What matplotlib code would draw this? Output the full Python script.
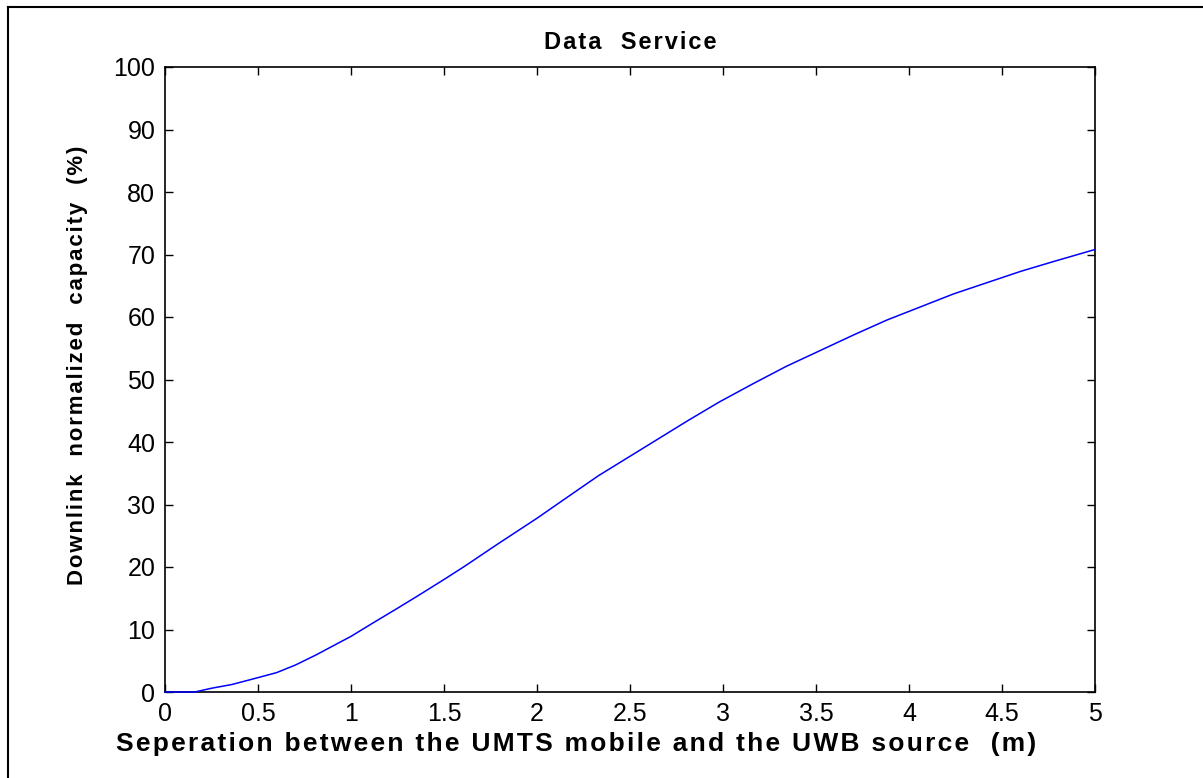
import matplotlib
matplotlib.use("Agg")
import matplotlib.pyplot as plt
from matplotlib.lines import Line2D

plt.rcParams['font.family'] = ['Liberation Sans', 'DejaVu Sans']

# separation (m) and downlink normalized capacity (%)
separacao = [0, 0.16, 0.25, 0.36, 0.5, 0.6, 0.7, 0.81, 0.93, 1.0, 1.11, 1.25,
             1.36, 1.5, 1.61, 1.79, 2.0, 2.15, 2.33, 2.45, 2.63, 2.81, 2.98,
             3.16, 3.34, 3.52, 3.7, 3.88, 4.06, 4.24, 4.42, 4.6, 4.78, 5.0]
capacidade = [0, 0, 0.6, 1.2, 2.3, 3.1, 4.3, 5.9, 7.8, 8.9, 10.9, 13.4,
              15.4, 18.0, 20.1, 23.7, 27.8, 30.9, 34.6, 36.8, 40.1, 43.4, 46.4,
              49.3, 52.1, 54.6, 57.1, 59.5, 61.6, 63.7, 65.5, 67.3, 68.9, 70.8]

xticks = [0, 0.5, 1, 1.5, 2, 2.5, 3, 3.5, 4, 4.5, 5]
xticklabels = ['0', '0.5', '1', '1.5', '2', '2.5', '3', '3.5', '4', '4.5', '5']
yticks = list(range(0, 101, 10))

titulo = 'Data  Service'
rotulo_x = 'Seperation between the UMTS mobile and the UWB source  (m)'
rotulo_y = 'Downlink  normalized  capacity  (%)'


def espacado(s, sep='\u200a'):
    # imita o espacamento largo entre letras do original
    return sep.join(s)


fig = plt.figure(figsize=(12.03, 7.78), dpi=100)
ax = fig.add_axes([165/1203, 1 - 692/778, (1095 - 165)/1203, (692 - 67)/778])

ax.plot(separacao, capacidade, color='#0000ff', linewidth=1.1, clip_on=False, zorder=5)

ax.set_xlim(0, 5)
ax.set_ylim(0, 100)
ax.set_xticks(xticks)
ax.set_xticklabels(xticklabels)
ax.set_yticks(yticks)
ax.tick_params(direction='in', top=True, right=True, length=6, width=1,
               labelsize=18, pad=7)
for s in ax.spines.values():
    s.set_linewidth(1.2)

ax.set_title(espacado(titulo), fontsize=17, fontweight='bold', pad=13)
ax.set_xlabel(espacado(rotulo_x), fontsize=19, fontweight='bold')
ax.xaxis.set_label_coords(0.442, -0.0640)
ax.set_ylabel(espacado(rotulo_y), fontsize=16, fontweight='bold')
ax.yaxis.set_label_coords(-0.083, 0.523)

# moldura externa
fig.add_artist(Line2D([8/1203, 8/1203], [0, 1 - 7/778], color='black', linewidth=1.5))
fig.add_artist(Line2D([8/1203, 1], [1 - 7/778, 1 - 7/778], color='black', linewidth=1.5))

fig.savefig('out.png', dpi=100)
